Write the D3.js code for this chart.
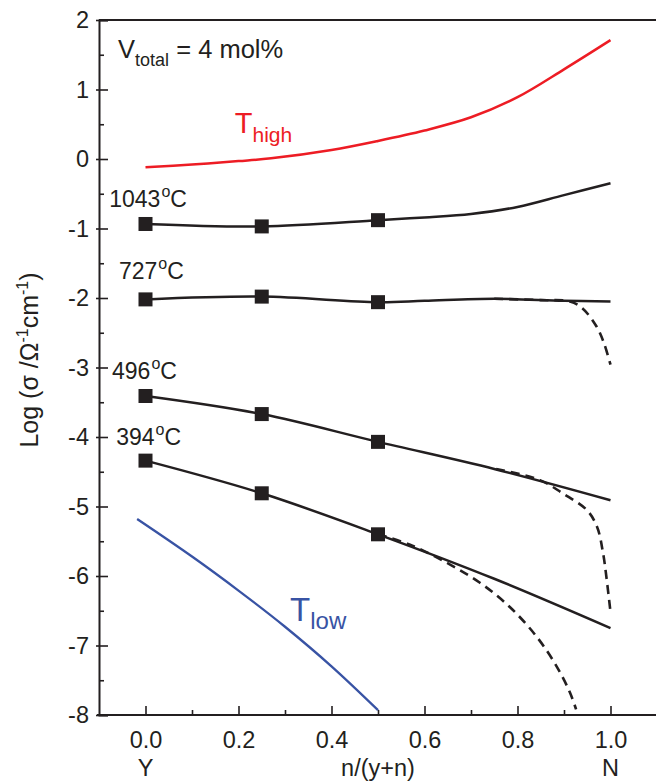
<!DOCTYPE html>
<html>
<head>
<meta charset="utf-8">
<script src="https://cdn.jsdelivr.net/npm/d3@7"></script>
<style>
  body { margin: 0; background: #fff; }
  svg { display: block; font-family: "Liberation Sans", Arial, sans-serif; }
</style>
</head>
<body>
<svg id="chart" width="656" height="781"></svg>
<script>
// Values (x = n/(y+n), y = log sigma)
var markerX = [0, 0.25, 0.5];

var t1043 = [[0, -0.935], [0.25, -0.97], [0.5, -0.88], [0.6, -0.84], [0.7, -0.79],
             [0.8, -0.69], [0.9, -0.52], [1.0, -0.35]];
var t727 = [[0, -2.02], [0.25, -1.98], [0.5, -2.06], [0.6, -2.04], [0.75, -2.01],
            [0.9, -2.04], [1.0, -2.05]];
var t727Dash = [[0.75, -2.01], [0.85, -2.03], [0.913, -2.05], [0.94, -2.15],
                [0.97, -2.41], [0.986, -2.65], [1.0, -2.96]];
var t496 = [[0, -3.41], [0.25, -3.67], [0.5, -4.07], [0.75, -4.46], [1.0, -4.91]];
var t496Dash = [[0.754, -4.46], [0.848, -4.62], [0.897, -4.81], [0.949, -5.05],
                [0.971, -5.29], [0.984, -5.67], [0.992, -6.06], [1.0, -6.52]];
var t394 = [[0, -4.34], [0.25, -4.81], [0.5, -5.40], [0.75, -6.04], [1.0, -6.75]];
var t394Dash = [[0.5, -5.40], [0.569, -5.55], [0.648, -5.81], [0.72, -6.10],
                [0.784, -6.45], [0.842, -6.88], [0.885, -7.31], [0.913, -7.68], [0.926, -7.92]];
var tHigh = [[0, -0.12], [0.1, -0.08], [0.2, -0.03], [0.27, 0.01], [0.4, 0.13],
             [0.5, 0.26], [0.6, 0.41], [0.7, 0.60], [0.8, 0.89], [0.9, 1.29], [1.0, 1.71]];
var tLow = [[-0.018, -5.18], [0.1, -5.72], [0.2, -6.21], [0.3, -6.73], [0.4, -7.30], [0.5, -7.93]];

var xTicks = [0, 0.2, 0.4, 0.6, 0.8, 1.0];
var xMinorTicks = [0.1, 0.3, 0.5, 0.7, 0.9];
var yTicks = [2, 1, 0, -1, -2, -3, -4, -5, -6, -7, -8];
var yMinorTicks = [1.5, 0.5, -0.5, -1.5, -2.5, -3.5, -4.5, -5.5, -6.5, -7.5];
var endLabels = [{x: 0, text: 'Y'}, {x: 0.5, text: 'n/(y+n)'}, {x: 1.0, text: 'N'}];
var tempLabels = [{x: -0.078, y: -0.69, text: '1043'}, {x: -0.057, y: -1.727, text: '727'},
                  {x: -0.072, y: -3.165, text: '496'}, {x: -0.063, y: -4.115, text: '394'}];

var ink = '#231f20';
var red = '#ed1c24';
var blue = '#3853a4';

var svg = d3.select('#chart');
var x = d3.scaleLinear().domain([-0.1, 1.1]).range([99, 657]);
var y = d3.scaleLinear().domain([-8, 2]).range([715, 20]);

// frame top line
svg.append('line')
    .attr('x1', x(-0.1)).attr('x2', 660)
    .attr('y1', y(2)).attr('y2', y(2))
    .attr('stroke', ink).attr('stroke-width', 2);

// x axis (ticks point inward)
var xAxis = svg.append('g')
    .attr('transform', 'translate(0,' + y(-8) + ')')
    .call(d3.axisBottom(x).tickValues(xTicks).tickSize(-9).tickPadding(16)
          .tickFormat(d3.format('.1f')));
svg.append('g')
    .attr('transform', 'translate(0,' + y(-8) + ')')
    .call(d3.axisBottom(x).tickValues(xMinorTicks).tickSize(-5).tickFormat(''))
    .select('.domain').remove();

// y axis, plain hyphen for the minus sign as in the original
var yAxis = svg.append('g')
    .attr('transform', 'translate(' + x(-0.1) + ',0)')
    .call(d3.axisLeft(y).tickValues(yTicks).tickSize(-9).tickPadding(10)
          .tickFormat(d => String(d)));
yAxis.selectAll('.tick line').attr('x1', -3);
svg.append('g')
    .attr('transform', 'translate(' + x(-0.1) + ',0)')
    .call(d3.axisLeft(y).tickValues(yMinorTicks).tickSize(-5).tickFormat(''))
    .select('.domain').remove();

svg.selectAll('.domain').attr('stroke', ink).attr('stroke-width', 2);
svg.selectAll('.tick line').attr('stroke', ink).attr('stroke-width', 1.6);
svg.selectAll('.tick text').attr('fill', ink).style('font-size', '23.5px')
    .style('font-family', '"Liberation Sans", Arial, sans-serif');
xAxis.select('.domain').attr('d', 'M' + (x(-0.1) - 2) + ',0H700');

// Y / N labels under the axis
svg.selectAll('.endLabel').data(endLabels).enter().append('text')
    .attr('class', 'endLabel')
    .attr('x', d => x(d.x)).attr('y', 776)
    .attr('text-anchor', 'middle')
    .style('font-size', '23.5px').attr('fill', ink)
    .text(d => d.text);

// y axis title
var ytitle = svg.append('text')
    .attr('transform', 'translate(38,360) rotate(-90)')
    .attr('text-anchor', 'middle')
    .style('font-size', '25px').attr('fill', ink);
ytitle.append('tspan').text('Log (σ /Ω');
ytitle.append('tspan').attr('dy', -10).style('font-size', '16px').text('-1');
ytitle.append('tspan').attr('dy', 10).text('cm');
ytitle.append('tspan').attr('dy', -10).style('font-size', '16px').text('-1');
ytitle.append('tspan').attr('dy', 10).text(')');

var line = d3.line()
    .x(d => x(d[0]))
    .y(d => y(d[1]))
    .curve(d3.curveCatmullRom.alpha(0.5));

function drawLine(data, color, width, dash) {
    svg.append('path')
        .attr('d', line(data))
        .attr('fill', 'none')
        .attr('stroke', color)
        .attr('stroke-width', width)
        .attr('stroke-dasharray', dash || null);
}

drawLine(tHigh, red, 2.5);
drawLine(tLow, blue, 2.3);
[t1043, t727, t496, t394].forEach(s => drawLine(s, ink, 2.5));
[t727Dash, t496Dash, t394Dash].forEach(s => drawLine(s, ink, 2.6, '9,6'));

// square markers at the measured compositions
[t1043, t727, t496, t394].forEach(function(s) {
    var pts = s.filter(d => markerX.indexOf(d[0]) >= 0);
    svg.append('g').selectAll('rect').data(pts).enter().append('rect')
        .attr('x', d => x(d[0]) - 7).attr('y', d => y(d[1]) - 7)
        .attr('width', 14).attr('height', 14)
        .attr('fill', ink);
});

// temperature labels
tempLabels.forEach(function(l) {
    var t = svg.append('text')
        .attr('x', x(l.x)).attr('y', y(l.y))
        .style('font-size', '23px').attr('fill', ink);
    t.append('tspan').text(l.text);
    t.append('tspan').attr('dy', -10).attr('dx', 1).style('font-size', '16px').text('o');
    t.append('tspan').attr('dy', 10).text('C');
});

// V_total annotation
var vt = svg.append('text')
    .attr('x', x(-0.059)).attr('y', y(1.453))
    .style('font-size', '25.5px').attr('fill', ink);
vt.append('tspan').text('V');
vt.append('tspan').attr('dy', 8).style('font-size', '18px').text('total');
vt.append('tspan').attr('dy', -8).text(' = 4 mol%');

// T_high / T_low
var th = svg.append('text')
    .attr('x', x(0.192)).attr('y', y(0.374))
    .style('font-size', '29px').attr('fill', red);
th.append('tspan').text('T');
th.append('tspan').attr('dy', 9).style('font-size', '21px').text('high');

var tl = svg.append('text')
    .attr('x', x(0.311)).attr('y', y(-6.647))
    .style('font-size', '33px').attr('fill', blue);
tl.append('tspan').text('T');
tl.append('tspan').attr('dy', 8).style('font-size', '24px').text('low');
</script>
</body>
</html>
